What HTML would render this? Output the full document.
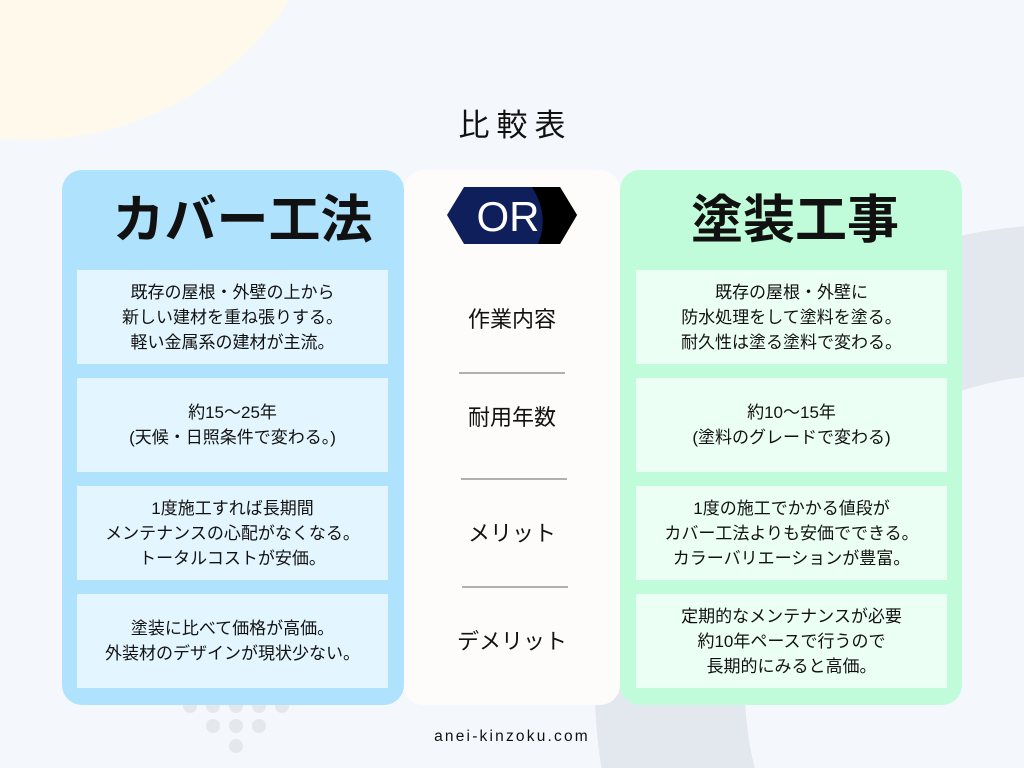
<!DOCTYPE html>
<html><head><meta charset="utf-8"><style>
*{margin:0;padding:0;box-sizing:border-box}
html,body{width:1024px;height:768px;overflow:hidden}
body{position:relative;background:#f4f8fc;font-family:"Liberation Sans","Noto Sans CJK JP",sans-serif;color:#111}
.abs{position:absolute}
.panel{position:absolute;top:170px;height:535px;border-radius:20px}
.cell{position:absolute;width:311px;height:94px;display:flex;align-items:center;justify-content:center;text-align:center;font-size:17px;line-height:25px}
.lab{position:absolute;left:404px;width:216px;text-align:center;font-size:22px}
.ln{position:absolute;height:2px;background:#b0b0b0}
.ttl{position:absolute;top:188px;height:66px;font-size:52px;font-weight:bold;text-align:center;line-height:66px}
</style></head><body>
<svg class="abs" style="left:0;top:0" width="1024" height="768">
<circle cx="30" cy="-170" r="310" fill="#fef9ea"/>
<circle cx="1060" cy="690" r="390" fill="none" stroke="#e3e7ee" stroke-width="150"/>
<g fill="#e4e7ec">
<circle cx="190" cy="706" r="7"/><circle cx="213" cy="706" r="7"/><circle cx="236" cy="706" r="7"/><circle cx="259" cy="706" r="7"/><circle cx="282" cy="706" r="7"/>
<circle cx="213" cy="726" r="7"/><circle cx="236" cy="726" r="7"/><circle cx="259" cy="726" r="7"/>
<circle cx="236" cy="746" r="7"/>
</g>
</svg>
<div class="abs" style="left:0;width:1024px;top:100px;text-align:center;font-size:31px;letter-spacing:7px;padding-left:7px">比較表</div>

<div class="panel" style="left:62px;width:342px;background:#aee2fd"></div>
<div class="panel" style="left:404px;width:216px;background:#fefcfa"></div>
<div class="panel" style="left:620px;width:342px;background:#c0fcd9"></div>

<div class="ttl" style="left:100px;width:285px">カバー工法</div>
<div class="ttl" style="left:640px;width:310px">塗装工事</div>

<svg class="abs" style="left:446px;top:186px" width="132" height="60">
<polygon points="1,29 18,1 114,1 131,29 114,58 18,58" fill="#0f1f5c"/>
<path d="M86,1 L114,1 L131,29 L114,58 L92,58 Q104,30 86,1Z" fill="#000"/>
<text x="62" y="45" text-anchor="middle" font-family="Liberation Sans" font-size="42" fill="#fff">OR</text>
</svg>

<div class="cell" style="left:77px;top:270px;background:#e3f5fe">既存の屋根・外壁の上から<br>新しい建材を重ね張りする。<br>軽い金属系の建材が主流。</div>
<div class="cell" style="left:77px;top:378px;background:#e3f5fe">約15〜25年<br>(天候・日照条件で変わる。)</div>
<div class="cell" style="left:77px;top:486px;background:#e3f5fe">1度施工すれば長期間<br>メンテナンスの心配がなくなる。<br>トータルコストが安価。</div>
<div class="cell" style="left:77px;top:594px;background:#e3f5fe">塗装に比べて価格が高価。<br>外装材のデザインが現状少ない。</div>

<div class="cell" style="left:636px;top:270px;background:#ecfff4">既存の屋根・外壁に<br>防水処理をして塗料を塗る。<br>耐久性は塗る塗料で変わる。</div>
<div class="cell" style="left:636px;top:378px;background:#ecfff4">約10〜15年<br>(塗料のグレードで変わる)</div>
<div class="cell" style="left:636px;top:486px;background:#ecfff4">1度の施工でかかる値段が<br>カバー工法よりも安価でできる。<br>カラーバリエーションが豊富。</div>
<div class="cell" style="left:636px;top:594px;background:#ecfff4">定期的なメンテナンスが必要<br>約10年ペースで行うので<br>長期的にみると高価。</div>

<div class="lab" style="top:302px">作業内容</div>
<div class="lab" style="top:400px">耐用年数</div>
<div class="lab" style="top:516px">メリット</div>
<div class="lab" style="top:624px">デメリット</div>
<div class="ln" style="left:459px;top:372px;width:106px"></div>
<div class="ln" style="left:461px;top:478px;width:106px"></div>
<div class="ln" style="left:462px;top:586px;width:106px"></div>

<div class="abs" style="left:404px;width:216px;top:728px;text-align:center;font-size:15.5px;letter-spacing:2.2px">anei-kinzoku.com</div>
</body></html>
